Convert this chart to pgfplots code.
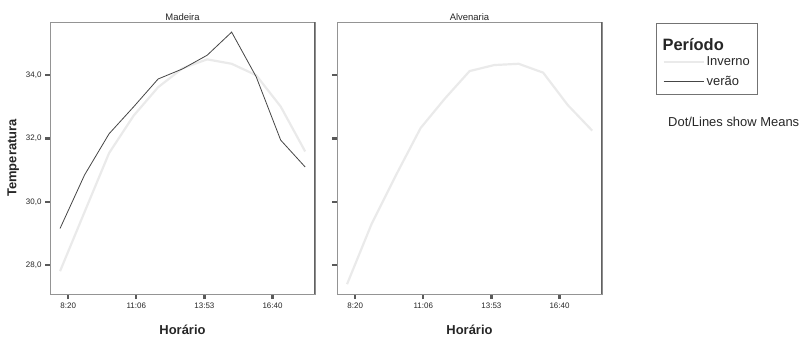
\documentclass[border=0pt]{standalone}
\usepackage{fontspec}
\setmainfont{Liberation Sans}
\usepackage{pgfplots}
\usepackage{pgfplotstable}
\pgfplotsset{compat=1.18}

\pgfplotstableread{
h  inv    ver
8  27.81  29.16
9  29.68  30.85
10 31.54  32.15
11 32.72  33.00
12 33.62  33.88
13 34.22  34.20
14 34.50  34.63
15 34.36  35.36
16 34.00  33.95
17 33.01  31.95
18 31.59  31.10
}\madeira

\pgfplotstableread{
h  inv
8  27.40
9  29.30
10 30.85
11 32.33
12 33.27
13 34.13
14 34.32
15 34.36
16 34.08
17 33.06
18 32.25
}\alvenaria

\definecolor{invcol}{HTML}{EAEAEA}
\definecolor{vercol}{HTML}{454545}

\pgfplotsset{panel/.style={
  scale only axis, width=265bp, height=272bp, anchor=south west,
  xmin=7.59, xmax=18.40, ymin=27.09, ymax=35.68,
  xtick={8.3333,11.1111,13.8889,16.6667},
  xticklabels={8:20,11:06,13:53,16:40},
  ytick={28,30,32,34},
  tick align=outside, xtick pos=left, ytick pos=left,
  major tick length=5bp,
  tick style={line width=2.2bp, color=black!65},
  axis line style={draw=black!42, line width=0.9bp},
  tick label style={font=\fontsize{8}{9}\selectfont, color=black!85},
  every axis title/.style={at={(axis description cs:0.5,1.0055)}, anchor=base,
     font=\fontsize{9.5}{11}\selectfont, color=black!85},
  every axis x label/.style={at={(axis description cs:0.5,-0.1324)}, anchor=center,
     font=\fontsize{13}{15}\selectfont\bfseries, color=black!85},
  every axis y label/.style={at={(axis description cs:-0.1385,0.5)}, anchor=center, rotate=90,
     font=\fontsize{13}{15}\selectfont\bfseries, color=black!85},
}}

\begin{document}
\begin{tikzpicture}
\useasboundingbox (0,0) rectangle (802bp,337bp);

\begin{axis}[panel, at={(50bp,43bp)},
  title={Madeira}, xlabel={Horário}, ylabel={Temperatura},
  yticklabels={{28,0},{30,0},{32,0},{34,0}},
  legend style={at={(axis description cs:2.2868,0.9963)}, anchor=north west,
     draw=black!55, line width=0.8bp, inner xsep=6bp, inner ysep=5bp,
     font=\fontsize{13}{14}\selectfont, row sep=5bp, text=black!85},
  legend cell align=left,
  legend image code/.code={\draw[#1] (0bp,0bp) -- (40bp,0bp);},
]
\addlegendimage{empty legend}
\addlegendentry{\hspace*{-44bp}\raisebox{-4bp}[16bp][0pt]{\fontsize{16.5}{18}\selectfont\bfseries Período}}
\addplot[color=invcol, line width=2.2bp] table[x=h,y=inv]{\madeira};
\addlegendentry{Inverno}
\addplot[color=vercol, line width=0.8bp] table[x=h,y=ver]{\madeira};
\addlegendentry{verão}
\draw[black!62, line width=1.8bp] (rel axis cs:1,0) -- (rel axis cs:1,1);
\end{axis}

\begin{axis}[panel, at={(337bp,43bp)},
  title={Alvenaria}, xlabel={Horário},
  yticklabels={},
]
\addplot[color=invcol, line width=2.2bp] table[x=h,y=inv]{\alvenaria};
\draw[black!62, line width=1.8bp] (rel axis cs:1,0) -- (rel axis cs:1,1);
\end{axis}

\node[anchor=west, inner sep=0pt, font=\fontsize{13}{15}\selectfont, text=black!85]
  at (668bp,215bp) {Dot/Lines show Means};
\end{tikzpicture}
\end{document}
